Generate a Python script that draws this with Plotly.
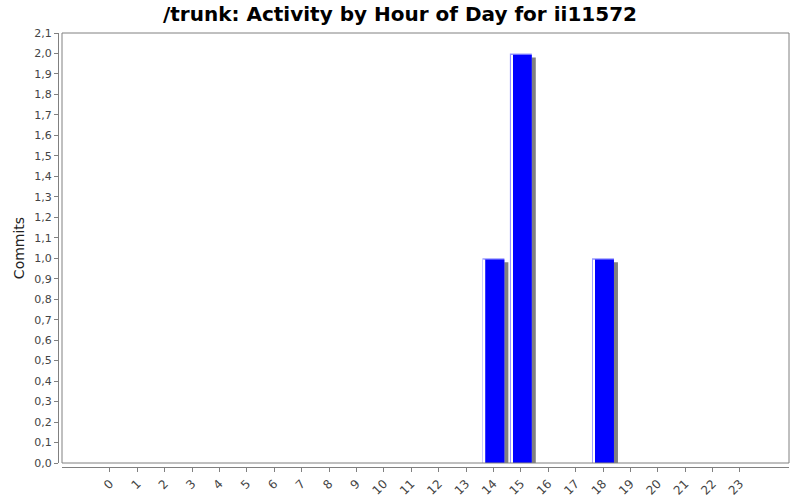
import plotly.graph_objects as go

# --- Data ---
hours = list(range(24))
hour_labels = [str(h) for h in hours]
commits = [0] * 24
commits[14] = 1
commits[15] = 2
commits[18] = 1

bar_hours = [h for h, c in zip(hours, commits) if c > 0]
bar_vals = [c for c in commits if c > 0]

BAR_W = 0.8
SHADOW_DX = 0.146
SHADOW_DY = 0.0196

fig = go.Figure()

# drop shadow
fig.add_trace(go.Bar(
    x=bar_hours, y=[v - SHADOW_DY for v in bar_vals],
    width=BAR_W, offset=-BAR_W / 2 + SHADOW_DX,
    marker=dict(color="#808080", line=dict(width=0)),
    hoverinfo="skip", showlegend=False,
))
# light top/left edge
fig.add_trace(go.Bar(
    x=bar_hours, y=bar_vals,
    width=BAR_W, offset=-BAR_W / 2,
    marker=dict(color="#9a9aff", line=dict(width=0)),
    hoverinfo="skip", showlegend=False,
))
# main bars
fig.add_trace(go.Bar(
    x=bar_hours, y=[v - 0.006 for v in bar_vals],
    width=BAR_W - 0.04, offset=-BAR_W / 2 + 0.04,
    marker=dict(color="#0000ff", line=dict(width=0)),
    showlegend=False,
))
# highlight stripe
fig.add_trace(go.Bar(
    x=bar_hours, y=[v - 0.006 for v in bar_vals],
    width=0.055, offset=-0.355,
    marker=dict(color="#ffffff", line=dict(width=0)),
    hoverinfo="skip", showlegend=False,
))

axis_col = "#808080"
tick_font = dict(family="DejaVu Sans", size=11, color="#444444")

fig.update_layout(
    width=800, height=500,
    margin=dict(l=58, r=11, t=33, b=33, autoexpand=False),
    paper_bgcolor="white", plot_bgcolor="white",
    barmode="overlay",
    separators=",.",
    title=dict(text="<b>/trunk: Activity by Hour of Day for ii11572</b>",
               x=0.5, xanchor="center", y=0.972, yanchor="middle",
               font=dict(family="DejaVu Sans", size=20, color="#000000")),
    xaxis=dict(
        domain=[4 / 731, 1], anchor="free", position=0,
        range=[-1.75, 24.79],
        tickmode="array", tickvals=hours, ticktext=hour_labels,
        tickangle=-45, ticks="outside", ticklen=4, tickcolor=axis_col,
        showline=True, linecolor=axis_col, linewidth=1,
        showgrid=False, zeroline=False,
        tickfont=dict(family="DejaVu Sans", size=12, color="#444444"),
        automargin=False,
    ),
    yaxis=dict(
        domain=[4 / 434, 1], anchor="free", position=0,
        range=[0, 2.1], dtick=0.1, tick0=0, tickformat=".1f",
        ticks="outside", ticklen=4, tickcolor=axis_col,
        showline=True, linecolor=axis_col, linewidth=1,
        showgrid=False, zeroline=False, tickfont=tick_font,
        title=dict(text="Commits", standoff=5,
                   font=dict(family="DejaVu Sans", size=14, color="#222222")),
        automargin=False,
    ),
    shapes=[dict(type="rect", xref="x domain", yref="y domain",
                 x0=0, x1=1, y0=0, y1=1,
                 line=dict(color=axis_col, width=1), layer="above")],
)

fig.write_html("out.html", config={"displayModeBar": False},
               post_script="document.body.style.margin='0';")
